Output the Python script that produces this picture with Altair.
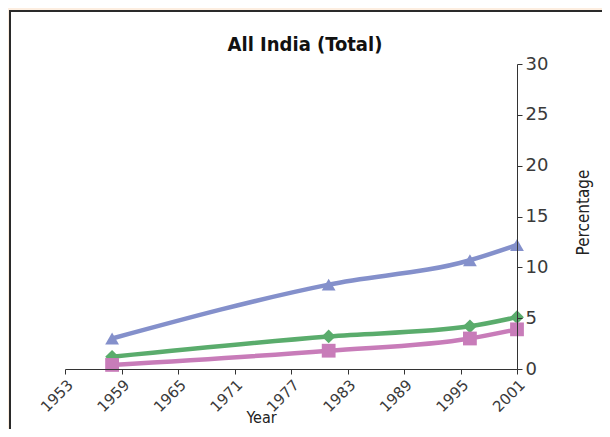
import altair as alt
import pandas as pd

# ---- data ----
years = [1958, 1981, 1996, 2001]
series_a = [3.0, 8.3, 10.7, 12.2]   # blue, triangles
series_b = [1.2, 3.2, 4.2, 5.1]     # green, diamonds
series_c = [0.4, 1.8, 3.0, 3.9]     # pink, squares
series_names = ["Series A", "Series B", "Series C"]
series_colors = ["#8490cb", "#5aac6c", "#c87cb9"]
series_shapes = ["triangle-up", "diamond", "square"]
x_ticks = [1953, 1959, 1965, 1971, 1977, 1983, 1989, 1995, 2001]
y_ticks = [0, 5, 10, 15, 20, 25, 30]
chart_title = ["All India (Total)"]

rows = []
for name, vals in zip(series_names, [series_a, series_b, series_c]):
    for yr, v in zip(years, vals):
        rows.append({"Year": yr, "Percentage": v, "Series": name})
df = pd.DataFrame(rows)

W, H = 452, 305
LEFT, TOP = 57, 56
NARROW = "Liberation Sans Narrow, DejaVu Sans Condensed, sans-serif"

x_enc = alt.X(
    "Year:Q",
    scale=alt.Scale(domain=[1953, 2001], nice=False, zero=False),
    axis=alt.Axis(
        values=x_ticks, format="d", labelAngle=-45, title="Year",
        grid=False, domainColor="#333333", tickColor="#333333", tickSize=5,
        labelFont="DejaVu Sans", labelFontSize=15, labelColor="#3a3a3a",
        labelPadding=3, labelAlign="right", labelBaseline="top",
        titleFont=NARROW,
        titleFontSize=16, titleFontWeight="normal", titleColor="#222222",
        titleX=196, titleY=48, titleBaseline="middle", titleAnchor="middle",
        titleAlign="center", zindex=2,
    ),
)
y_enc = alt.Y(
    "Percentage:Q",
    scale=alt.Scale(domain=[0, 30], nice=False),
    axis=alt.Axis(
        orient="right", values=y_ticks, title="Percentage", grid=False,
        domainColor="#333333", tickColor="#333333", tickSize=5,
        labelFont="DejaVu Sans", labelFontSize=18, labelColor="#3a3a3a",
        labelPadding=3,
        titleFont=NARROW,
        titleFontSize=17, titleFontWeight="normal", titleColor="#222222",
        titleAngle=270, titleX=66, titleY=148, titleBaseline="middle",
        titleAlign="center", zindex=2,
    ),
)
color_enc = alt.Color(
    "Series:N",
    scale=alt.Scale(domain=series_names, range=series_colors),
    legend=None,
)
shape_enc = alt.Shape(
    "Series:N",
    scale=alt.Scale(domain=series_names, range=series_shapes),
    legend=None,
)

panel = alt.Chart(pd.DataFrame({"p": [0]})).mark_rect(
    fill="white", stroke="#2a2a2a", strokeWidth=2
).encode(
    x=alt.value(-LEFT + 2), y=alt.value(-TOP + 3),
    x2=alt.value(W + 200), y2=alt.value(H + 200),
)

title_text = alt.Chart(pd.DataFrame({"t": chart_title})).mark_text(
    font=NARROW, fontSize=20, fontWeight="bold", color="#111111",
    align="center", baseline="alphabetic",
).encode(text="t:N", x=alt.value(240), y=alt.value(-13))

base = alt.Chart(df)
lines = base.mark_line(strokeWidth=4.5, interpolate="monotone").encode(
    x=x_enc, y=y_enc, color=color_enc, detail="Series:N"
)
points = base.mark_point(filled=True, opacity=1, size=190).encode(
    x="Year:Q", y="Percentage:Q", color=color_enc, shape=shape_enc
)

chart = alt.layer(panel, lines, points, title_text).properties(
    width=W,
    height=H,
    autosize=alt.AutoSizeParams(type="none"),
    padding={"left": LEFT, "top": TOP, "right": 85, "bottom": 60},
    background="#fdeee0",
).configure_view(stroke=None)

chart.save("out.html", embed_options={"renderer": "svg", "actions": False})
